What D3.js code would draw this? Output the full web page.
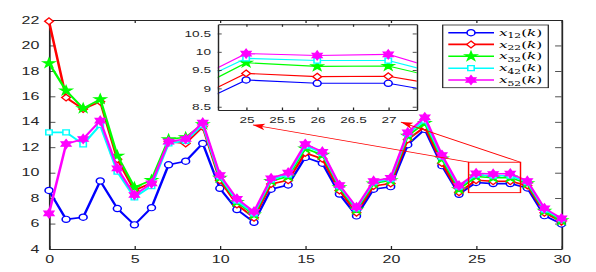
<!DOCTYPE html>
<html><head><meta charset="utf-8">
<script src="https://cdn.jsdelivr.net/npm/d3@7"></script>
<style>html,body{margin:0;padding:0;background:#fff;} svg{display:block;}</style>
</head><body><svg id="c"></svg>
<script>
// ---- data ----
const k = [0,1,2,3,4,5,6,7,8,9,10,11,12,13,14,15,16,17,18,19,20,21,22,23,24,25,26,27,28,29,30];
const x12 = [8.6,6.33,6.5,9.35,7.18,5.9,7.25,10.62,10.9,12.3,8.77,7.1,6.1,8.7,9.03,11.2,10.74,8.32,6.6,8.7,8.9,12.2,13.4,10.55,8.3,9.23,9.14,9.14,8.8,6.62,5.97];
const x22 = [21.9,15.9,15.0,15.58,11.05,8.6,9.2,12.45,12.3,13.6,9.4,7.5,6.45,9.1,9.4,11.55,11.1,8.6,6.85,8.95,9.15,12.6,13.6,10.75,8.46,9.41,9.32,9.33,9.0,6.85,6.15];
const x32 = [18.6,16.45,15.06,15.77,11.33,8.85,9.42,12.62,12.78,13.8,9.6,7.7,6.7,9.35,9.7,11.9,11.4,8.85,7.1,9.15,9.4,12.9,13.9,11.1,8.7,9.70,9.60,9.61,9.16,7.0,6.25];
const x42 = [13.17,13.17,12.23,13.75,10.08,8.06,8.95,12.3,12.5,13.75,9.7,7.8,6.8,9.45,9.85,12.1,11.55,8.95,7.2,9.25,9.5,13.05,14.1,11.25,8.9,9.82,9.76,9.76,9.26,7.1,6.35];
const x52 = [6.8,12.25,12.65,14.09,10.34,8.25,9.16,12.44,12.65,13.93,9.82,7.95,6.93,9.56,10.0,12.25,11.65,9.03,7.28,9.35,9.6,13.17,14.35,11.39,8.98,9.95,9.90,9.93,9.35,7.2,6.41];
const seriesValues = [x12, x22, x32, x42, x52];
const legendSubs = ["12","22","32","42","52"];
const colors = ["#0000ff","#ff0000","#00ff00","#00ffff","#ff00ff"];
const markerTypes = ["circle","diamond","star","square","hexagram"];
const xTicks = [0,5,10,15,20,25,30];
const yTicks = [4,6,8,10,12,14,16,18,20,22];
const insetXTicks = [25,25.5,26,26.5,27];
const insetYTicks = [8.5,9,9.5,10,10.5];
const insetXDomain = [24.6,27.4];
const insetYDomain = [8.41,10.75];
const zoomBox = {x0:24.56, x1:27.6, y0:8.43, y1:10.82};
const arrows = [{x0:27.6,y0:10.82,x1:20.6,y1:13.98},{x0:24.56,y0:10.82,x1:11.94,y1:13.75}];

// ---- layout (virtual coords; whole picture stretched horizontally) ----
const SX = 1.6, WR = 596, H = 272, W = WR / SX;
const svg = d3.select("#c").attr("width", WR).attr("height", H)
  .attr("viewBox", `0 0 ${W} ${H}`).attr("preserveAspectRatio", "none");
const AX = "#262626";
const x = d3.scaleLinear().domain([0,30]).range([49/SX, 561.5/SX]);
const y = d3.scaleLinear().domain([4,22]).range([249, 20]);
const ix = d3.scaleLinear().domain(insetXDomain).range([217.7/SX, 416.7/SX]);
const iy = d3.scaleLinear().domain(insetYDomain).range([110, 24.3]);

function markerPath(type) {
  if (type === "circle") { const r = 3.1; return `M${r},0A${r},${r} 0 1,1 ${-r},0A${r},${r} 0 1,1 ${r},0Z`; }
  if (type === "diamond") { const a = 3.4; return `M0,${-a}L${a},0L0,${a}L${-a},0Z`; }
  if (type === "square") { const a = 2.5; return `M${-a},${-a}H${a}V${a}H${-a}Z`; }
  const n = type === "star" ? 5 : 6, R = type === "star" ? 4.7 : 4.4, r = type === "star" ? R*0.382 : R/Math.sqrt(3);
  const pts = [];
  for (let i = 0; i < 2*n; i++) {
    const ang = -Math.PI/2 + i*Math.PI/n, rr = i%2 ? r : R;
    pts.push([rr*Math.cos(ang), rr*Math.sin(ang)]);
  }
  return "M" + pts.map(p => p[0].toFixed(2)+","+p[1].toFixed(2)).join("L") + "Z";
}
const filled = {circle:false, diamond:false, square:false, star:true, hexagram:true};

function drawMarker(g, type, color, cx, cy) {
  g.append("path").attr("d", markerPath(type))
    .attr("transform", `translate(${cx},${cy}) scale(0.8,1)`)
    .attr("fill", filled[type] ? color : "#fff")
    .attr("stroke", color).attr("stroke-width", 1.2);
}

// ---- main axes ----
const axG = svg.append("g");
function styleAxis(g) {
  g.selectAll("path.domain").attr("stroke", AX).attr("stroke-width", 1.1);
  g.selectAll(".tick line").attr("stroke", AX).attr("stroke-width", 0.8);
  g.selectAll("text").attr("fill", AX).attr("font-family", "Liberation Sans, Arial, sans-serif");
}
const fmt = d3.format("");
axG.append("g").attr("transform", `translate(0,${y(4)})`)
  .call(d3.axisBottom(x).tickValues(xTicks).tickSizeInner(-3).tickSizeOuter(0).tickPadding(7).tickFormat(fmt))
  .call(g => g.selectAll("text").attr("font-size", 10)).call(styleAxis);
axG.append("g").attr("transform", `translate(0,${y(22)})`)
  .call(d3.axisTop(x).tickValues(xTicks).tickSizeInner(-3).tickSizeOuter(0).tickFormat(""))
  .call(styleAxis);
axG.append("g").attr("transform", `translate(${x(0)},0)`)
  .call(d3.axisLeft(y).tickValues(yTicks).tickSizeInner(-4).tickSizeOuter(0).tickPadding(6).tickFormat(fmt))
  .call(g => g.selectAll("text").attr("font-size", 10)).call(styleAxis);
axG.append("g").attr("transform", `translate(${x(30)},0)`)
  .call(d3.axisRight(y).tickValues(yTicks).tickSizeInner(-4).tickSizeOuter(0).tickFormat(""))
  .call(styleAxis);

// ---- main series ----
const line = d3.line().x((d,i) => x(k[i])).y(d => y(d));
seriesValues.forEach((vals, s) => {
  const g = svg.append("g");
  g.append("path").attr("d", line(vals)).attr("fill", "none")
    .attr("stroke", colors[s]).attr("stroke-width", 1.6).attr("stroke-linejoin", "round");
  vals.forEach((v, i) => drawMarker(g, markerTypes[s], colors[s], x(k[i]), y(v)));
});

// ---- zoom box & arrows ----
const red = "#ff0000";
svg.append("rect").attr("x", x(zoomBox.x0)).attr("y", y(zoomBox.y1))
  .attr("width", x(zoomBox.x1) - x(zoomBox.x0)).attr("height", y(zoomBox.y0) - y(zoomBox.y1))
  .attr("fill", "none").attr("stroke", red).attr("stroke-width", 0.9);
arrows.forEach(a => {
  const X0 = x(a.x0), Y0 = y(a.y0), X1 = x(a.x1), Y1 = y(a.y1);
  svg.append("line").attr("x1", X0).attr("y1", Y0).attr("x2", X1).attr("y2", Y1)
    .attr("stroke", red).attr("stroke-width", 0.8);
  // arrowhead in real-pixel geometry
  const dxr = (X1 - X0) * SX, dyr = (Y1 - Y0), L = Math.hypot(dxr, dyr);
  const ux = dxr / L, uy = dyr / L, len = 12, hw = 3.2, back = 9;
  const P = (along, perp) => [X1 + (-ux*along - uy*perp)/SX, Y1 + (-uy*along + ux*perp)];
  const pts = [P(0,0), P(len, hw), P(back, 0), P(len, -hw)];
  svg.append("path").attr("d", "M" + pts.map(p => p.join(",")).join("L") + "Z").attr("fill", red);
});

// ---- inset ----
const ig = svg.append("g");
ig.append("rect").attr("x", ix.range()[0]).attr("y", iy.range()[1])
  .attr("width", ix.range()[1]-ix.range()[0]).attr("height", iy.range()[0]-iy.range()[1]).attr("fill", "#fff");
svg.append("defs").append("clipPath").attr("id", "iclip").append("rect")
  .attr("x", ix.range()[0]).attr("y", iy.range()[1])
  .attr("width", ix.range()[1]-ix.range()[0]).attr("height", iy.range()[0]-iy.range()[1]);
const iline = d3.line().x((d,i) => ix(k[i])).y(d => iy(d));
const isg = ig.append("g").attr("clip-path", "url(#iclip)");
seriesValues.forEach((vals, s) => {
  isg.append("path").attr("d", iline(vals)).attr("fill", "none")
    .attr("stroke", colors[s]).attr("stroke-width", 1.1);
  vals.forEach((v, i) => {
    if (k[i] >= insetXDomain[0] && k[i] <= insetXDomain[1]) drawMarker(isg, markerTypes[s], colors[s], ix(k[i]), iy(v));
  });
});
ig.append("g").attr("transform", `translate(0,${iy.range()[0]})`)
  .call(d3.axisBottom(ix).tickValues(insetXTicks).tickSizeInner(-2.5).tickSizeOuter(0).tickPadding(6.8).tickFormat(d3.format("")))
  .call(g => g.selectAll("text").attr("font-size", 8.5)).call(styleAxis);
ig.append("g").attr("transform", `translate(0,${iy.range()[1]})`)
  .call(d3.axisTop(ix).tickValues(insetXTicks).tickSizeInner(-2.5).tickSizeOuter(0).tickFormat(""))
  .call(styleAxis);
ig.append("g").attr("transform", `translate(${ix.range()[0]},0)`)
  .call(d3.axisLeft(iy).tickValues(insetYTicks).tickSizeInner(-2.5).tickSizeOuter(0).tickPadding(4.2).tickFormat(d3.format("")))
  .call(g => g.selectAll("text").attr("font-size", 8.5)).call(styleAxis);
ig.append("g").attr("transform", `translate(${ix.range()[1]},0)`)
  .call(d3.axisRight(iy).tickValues(insetYTicks).tickSizeInner(-2.5).tickSizeOuter(0).tickFormat(""))
  .call(styleAxis);
ig.selectAll("path.domain").attr("stroke-width", 0.9);

// ---- legend ----
const lg = svg.append("g");
const lx0 = 442.7/SX, lx1 = 548.3/SX, ly0 = 25, ly1 = 87.7;
lg.append("rect").attr("x", lx0).attr("y", ly0).attr("width", lx1-lx0).attr("height", ly1-ly0)
  .attr("fill", "#fff").attr("stroke", AX).attr("stroke-width", 0.8);
const rowY = [32.7, 44.4, 56.3, 68.2, 80.0];
legendSubs.forEach((sub, s) => {
  const cy = rowY[s];
  lg.append("line").attr("x1", 448.3/SX).attr("x2", 494/SX).attr("y1", cy).attr("y2", cy)
    .attr("stroke", colors[s]).attr("stroke-width", 1.6);
  drawMarker(lg, markerTypes[s], colors[s], 471/SX, cy);
  const t = lg.append("text").attr("x", 499/SX).attr("y", cy + 3.2)
    .attr("font-family", "DejaVu Serif, serif").attr("font-size", 9.5).attr("fill", "#000");
  t.append("tspan").attr("font-style", "italic").text("x");
  t.append("tspan").attr("font-size", 6.7).attr("dy", 2.4).text(sub);
  t.append("tspan").attr("dy", -2.4).text("(");
  t.append("tspan").attr("font-style", "italic").text("k");
  t.append("tspan").text(")");
});
</script></body></html>
